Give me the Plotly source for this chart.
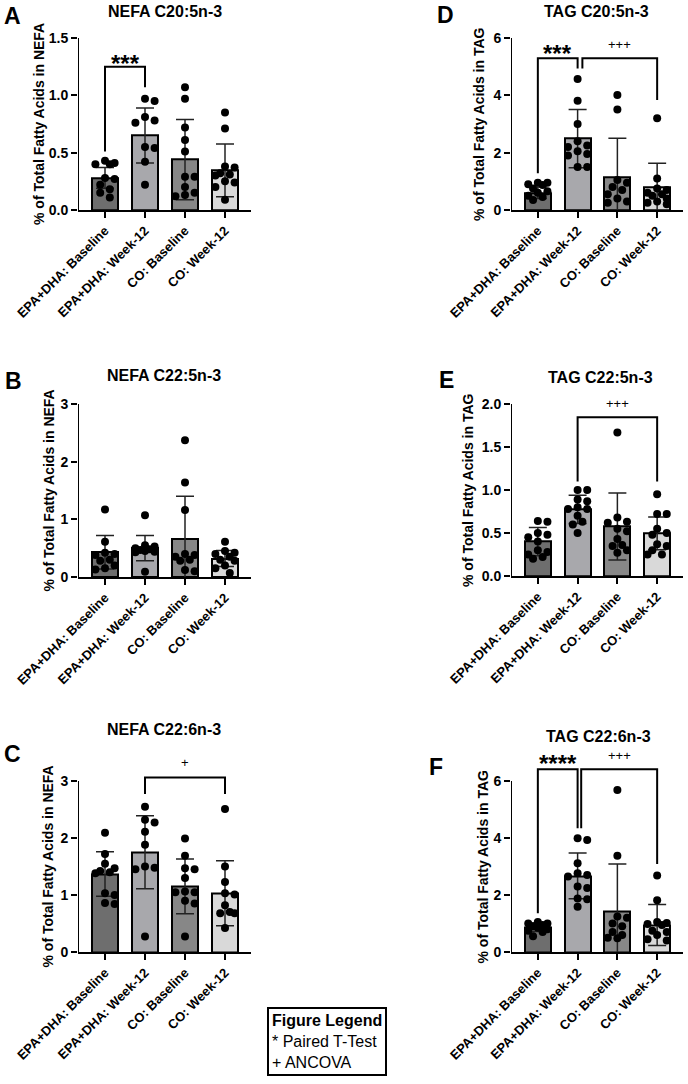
import plotly.graph_objects as go

W, H = 688, 1084
FONT = "Arial, 'Liberation Sans', sans-serif"

categories = ["EPA+DHA: Baseline", "EPA+DHA: Week-12", "CO: Baseline", "CO: Week-12"]
bar_colors = ["#6e6e6e", "#a8a8ac", "#878787", "#d9d9d9"]

# ---- Panel A : NEFA C20:5n-3 ----
A_mean = [0.28, 0.65, 0.44, 0.345]
A_sd = [0.09, 0.24, 0.35, 0.23]
A_pts = [
    [0.43, 0.41, 0.40, 0.40, 0.28, 0.27, 0.22, 0.18, 0.15, 0.11],
    [0.97, 0.95, 0.81, 0.78, 0.76, 0.55, 0.54, 0.42, 0.22],
    [1.07, 0.97, 0.72, 0.61, 0.51, 0.29, 0.29, 0.20, 0.15, 0.13, 0.12],
    [0.85, 0.71, 0.38, 0.37, 0.32, 0.31, 0.30, 0.25, 0.24, 0.20, 0.09],
]
# ---- Panel D : TAG C20:5n-3 ----
D_mean = [0.60, 2.49, 1.16, 0.79]
D_sd = [0.20, 1.02, 1.34, 0.84]
D_pts = [
    [0.95, 0.95, 0.90, 0.87, 0.75, 0.65, 0.60, 0.50, 0.45, 0.35],
    [4.57, 3.81, 3.00, 2.40, 2.25, 2.20, 2.05, 1.95, 1.90, 1.50, 1.50],
    [4.01, 3.51, 1.05, 0.95, 0.80, 0.70, 0.55, 0.40, 0.30, 0.25],
    [3.20, 1.10, 0.75, 0.70, 0.60, 0.55, 0.50, 0.40, 0.30, 0.25, 0.20],
]
# ---- Panel B : NEFA C22:5n-3 ----
B_mean = [0.43, 0.50, 0.66, 0.32]
B_sd = [0.29, 0.22, 0.74, 0.14]
B_pts = [
    [1.17, 0.61, 0.42, 0.40, 0.38, 0.30, 0.28, 0.20, 0.15, 0.13],
    [1.07, 0.55, 0.53, 0.50, 0.48, 0.47, 0.45, 0.44, 0.43, 0.09],
    [2.37, 1.64, 1.16, 0.40, 0.38, 0.35, 0.30, 0.28, 0.12, 0.10],
    [0.61, 0.45, 0.42, 0.40, 0.35, 0.30, 0.28, 0.20, 0.15, 0.07],
]
# ---- Panel E : TAG C22:5n-3 ----
E_mean = [0.40, 0.775, 0.575, 0.495]
E_sd = [0.165, 0.165, 0.39, 0.19]
E_pts = [
    [0.64, 0.63, 0.50, 0.48, 0.45, 0.40, 0.30, 0.28, 0.25, 0.22, 0.20],
    [1.00, 1.00, 0.89, 0.87, 0.80, 0.78, 0.78, 0.70, 0.63, 0.60, 0.50],
    [1.67, 0.68, 0.63, 0.62, 0.55, 0.52, 0.43, 0.36, 0.35, 0.30, 0.27],
    [0.95, 0.72, 0.72, 0.55, 0.50, 0.48, 0.37, 0.35, 0.30, 0.25, 0.25],
]
# ---- Panel C : NEFA C22:6n-3 ----
C_mean = [1.37, 1.75, 1.15, 1.03]
C_sd = [0.39, 0.64, 0.48, 0.57]
C_pts = [
    [2.09, 1.72, 1.55, 1.47, 1.42, 1.40, 1.38, 1.03, 1.00, 0.86, 0.84],
    [2.55, 2.32, 2.27, 2.11, 1.88, 1.50, 1.48, 1.45, 0.27],
    [1.99, 1.69, 1.47, 1.45, 1.30, 1.06, 1.05, 1.05, 0.90, 0.85, 0.27],
    [2.51, 1.50, 1.23, 1.03, 1.01, 0.82, 0.70, 0.68, 0.68, 0.42],
]
# ---- Panel F : TAG C22:6n-3 ----
F_mean = [0.87, 2.67, 1.44, 0.95]
F_sd = [0.15, 0.80, 1.65, 0.72]
F_pts = [
    [1.05, 1.00, 1.00, 0.95, 0.90, 0.85, 0.80, 0.75, 0.70, 0.55],
    [3.99, 3.93, 3.11, 2.76, 2.70, 2.65, 2.30, 2.25, 1.88, 1.85, 1.59],
    [5.68, 3.38, 1.25, 1.20, 1.00, 0.90, 0.70, 0.60, 0.50, 0.48],
    [2.68, 1.82, 1.05, 1.02, 0.98, 0.95, 0.75, 0.70, 0.60, 0.45, 0.40],
]

# significance brackets: (x_left, x_right, y_top, y_left_end, y_right_end, label, label_y)
A_sig = [(0, 1, 1.25, 0.51, 1.07, "***", 1.334)]
D_sig = [(0, 1.0, 5.29, 1.28, 4.94, "***", 5.67), (1.12, 3, 5.29, 4.94, 3.84, "+++", 5.77)]
B_sig = []
E_sig = [(1, 3, 1.845, 1.10, 1.10, "+++", 2.008)]
C_sig = [(1, 3, 3.06, 2.77, 2.77, "+", 3.316)]
F_sig = [(0, 1.0, 6.41, 1.36, 4.34, "****", 6.84), (1.09, 3, 6.41, 4.34, 3.09, "+++", 6.91)]

# layout per panel (pixel geometry)
panels = [
    dict(letter="A", title="NEFA C20:5n-3", ytitle="% of Total Fatty Acids in NEFA", mean=A_mean, sd=A_sd, pts=A_pts, sig=A_sig,
         xpx=(78, 251), y0=210, ytop=38, ymax=1.5, dtick=0.5, fmt="{:.1f}", tpos=(165, 11), lpos=(12, 16), ytx=39),
    dict(letter="D", title="TAG C20:5n-3", ytitle="% of Total Fatty Acids in TAG", mean=D_mean, sd=D_sd, pts=D_pts, sig=D_sig,
         xpx=(511, 683), y0=210, ytop=38, ymax=6, dtick=2, fmt="{:.0f}", tpos=(596, 11), lpos=(445, 15), ytx=479),
    dict(letter="B", title="NEFA C22:5n-3", ytitle="% of Total Fatty Acids in NEFA", mean=B_mean, sd=B_sd, pts=B_pts, sig=B_sig,
         xpx=(78, 251), y0=577, ytop=404, ymax=3, dtick=1, fmt="{:.0f}", tpos=(164, 376), lpos=(13, 381), ytx=48),
    dict(letter="E", title="TAG C22:5n-3", ytitle="% of Total Fatty Acids in TAG", mean=E_mean, sd=E_sd, pts=E_pts, sig=E_sig,
         xpx=(511, 683), y0=576, ytop=404, ymax=2.0, dtick=0.5, fmt="{:.1f}", tpos=(600, 377), lpos=(446, 380), ytx=468),
    dict(letter="C", title="NEFA C22:6n-3", ytitle="% of Total Fatty Acids in NEFA", mean=C_mean, sd=C_sd, pts=C_pts, sig=C_sig,
         xpx=(78, 251), y0=952, ytop=781, ymax=3, dtick=1, fmt="{:.0f}", tpos=(164, 729), lpos=(12, 754), ytx=47),
    dict(letter="F", title="TAG C22:6n-3", ytitle="% of Total Fatty Acids in TAG", mean=F_mean, sd=F_sd, pts=F_pts, sig=F_sig,
         xpx=(511, 683), y0=952, ytop=781, ymax=6, dtick=2, fmt="{:.0f}", tpos=(598, 736), lpos=(436, 767), ytx=482),
]

XR = [-0.675, 3.65]


def swarm_offsets(vals, ppu_y, ppu_x, diam=8.0, maxoff=11.0):
    order = sorted(range(len(vals)), key=lambda i: -vals[i])
    cands = [0.0]
    step = diam * 0.6
    k = 1
    while k * step <= maxoff:
        cands += [k * step, -k * step]
        k += 1
    placed = []
    out = [0.0] * len(vals)
    for i in order:
        yp = vals[i] * ppu_y
        chosen = None
        bestc, bestd = 0.0, -1.0
        for c in cands:
            d = min([((c - px) ** 2 + (yp - py) ** 2) ** 0.5 for px, py in placed], default=1e9)
            if d >= diam * 0.95:
                chosen = c
                break
            if d > bestd:
                bestd, bestc = d, c
        if chosen is None:
            chosen = bestc
        placed.append((chosen, yp))
        out[i] = chosen / ppu_x
    return out


fig = go.Figure()
annotations = []
layout_axes = {}

for idx, p in enumerate(panels):
    n = idx + 1
    xa = "x" if n == 1 else f"x{n}"
    ya = "y" if n == 1 else f"y{n}"
    xkey = "xaxis" if n == 1 else f"xaxis{n}"
    ykey = "yaxis" if n == 1 else f"yaxis{n}"

    ppu_y = (p["y0"] - p["ytop"]) / p["ymax"]
    ext = p["ymax"] * 1.22
    top_px = p["y0"] - ext * ppu_y
    x0px, x1px = p["xpx"]
    ppu_x = (x1px - x0px) / (XR[1] - XR[0])

    xs = list(range(len(categories)))
    fig.add_trace(go.Bar(
        x=xs, y=p["mean"], width=0.65,
        marker=dict(color=bar_colors, line=dict(color="black", width=2)),
        error_y=dict(type="data", array=p["sd"], visible=True, color="#222222", thickness=1.5, width=9),
        xaxis=xa, yaxis=ya, showlegend=False, hoverinfo="skip",
    ))
    for g, vals in enumerate(p["pts"]):
        offs = swarm_offsets(vals, ppu_y, ppu_x)
        fig.add_trace(go.Scatter(
            x=[g + o for o in offs], y=vals, mode="markers",
            marker=dict(color="black", size=8),
            xaxis=xa, yaxis=ya, showlegend=False, cliponaxis=False, hoverinfo="skip",
        ))
    # y axis line up to top tick
    fig.add_trace(go.Scatter(
        x=[XR[0], XR[0]], y=[0, p["ymax"]], mode="lines",
        line=dict(color="black", width=2), xaxis=xa, yaxis=ya,
        showlegend=False, cliponaxis=False, hoverinfo="skip",
    ))
    # brackets
    for (xl, xr, yt, yle, yre, lab, laby) in p["sig"]:
        fig.add_trace(go.Scatter(
            x=[xl, xl, xr, xr], y=[yle, yt, yt, yre], mode="lines",
            line=dict(color="black", width=2), xaxis=xa, yaxis=ya,
            showlegend=False, cliponaxis=False, hoverinfo="skip",
        ))
        is_star = "*" in lab
        annotations.append(dict(
            x=(xl + xr) / 2, y=laby, xref=xa, yref=ya, text=lab, showarrow=False,
            xanchor="center", yanchor="middle", yshift=-6 if is_star else 0,
            font=dict(family=FONT, size=24 if is_star else 13, color="black", weight="bold" if is_star else "normal"),
        ))

    nt = int(round(p["ymax"] / p["dtick"]))
    tickvals = [p["dtick"] * i for i in range(nt + 1)]
    layout_axes[xkey] = dict(
        domain=[x0px / W, x1px / W], anchor=ya, range=XR, automargin=False,
        tickvals=xs, ticktext=categories, tickangle=-45,
        showline=True, linecolor="black", linewidth=2,
        ticks="outside", ticklen=6, tickwidth=2, tickcolor="black",
        tickfont=dict(family=FONT, size=13, color="black", weight="bold"),
        showgrid=False, zeroline=False, fixedrange=True,
    )
    layout_axes[ykey] = dict(
        domain=[1 - p["y0"] / H, 1 - top_px / H], anchor=xa, range=[0, ext], automargin=False,
        tickvals=tickvals, ticktext=[p["fmt"].format(v) for v in tickvals],
        showline=False, ticks="outside", ticklen=6, tickwidth=2, tickcolor="black",
        tickfont=dict(family=FONT, size=14, color="black", weight="bold"),
        showgrid=False, zeroline=False, fixedrange=True,
    )
    # y-axis title centred on the visible axis (0..ymax)
    annotations.append(dict(
        x=p["ytx"] / W, y=1 - ((p["y0"] + p["ytop"]) / 2) / H, xref="paper", yref="paper",
        text=p["ytitle"], showarrow=False, textangle=-90, xanchor="center", yanchor="middle",
        font=dict(family=FONT, size=14, color="black", weight="bold"),
    ))
    annotations.append(dict(
        x=p["tpos"][0] / W, y=1 - p["tpos"][1] / H, xref="paper", yref="paper",
        text=p["title"], showarrow=False, xanchor="center", yanchor="middle",
        font=dict(family=FONT, size=16, color="black", weight="bold"),
    ))
    annotations.append(dict(
        x=p["lpos"][0] / W, y=1 - p["lpos"][1] / H, xref="paper", yref="paper",
        text=p["letter"], showarrow=False, xanchor="center", yanchor="middle",
        font=dict(family=FONT, size=23, color="black", weight="bold"),
    ))

# figure legend box
annotations.append(dict(
    x=267 / W, y=1 - 1007 / H, xref="paper", yref="paper", xanchor="left", yanchor="top",
    text="<b>Figure Legend</b><br>* Paired T-Test<br>+ ANCOVA", showarrow=False, align="left",
    font=dict(family=FONT, size=16, color="black"),
    bordercolor="black", borderwidth=2, borderpad=3, bgcolor="white",
))

fig.update_layout(
    width=W, height=H, margin=dict(l=0, r=0, t=0, b=0, autoexpand=False),
    paper_bgcolor="white", plot_bgcolor="white",
    showlegend=False, annotations=annotations, bargap=0,
    **layout_axes,
)

fig.write_html("out.html", config={"displayModeBar": False})
